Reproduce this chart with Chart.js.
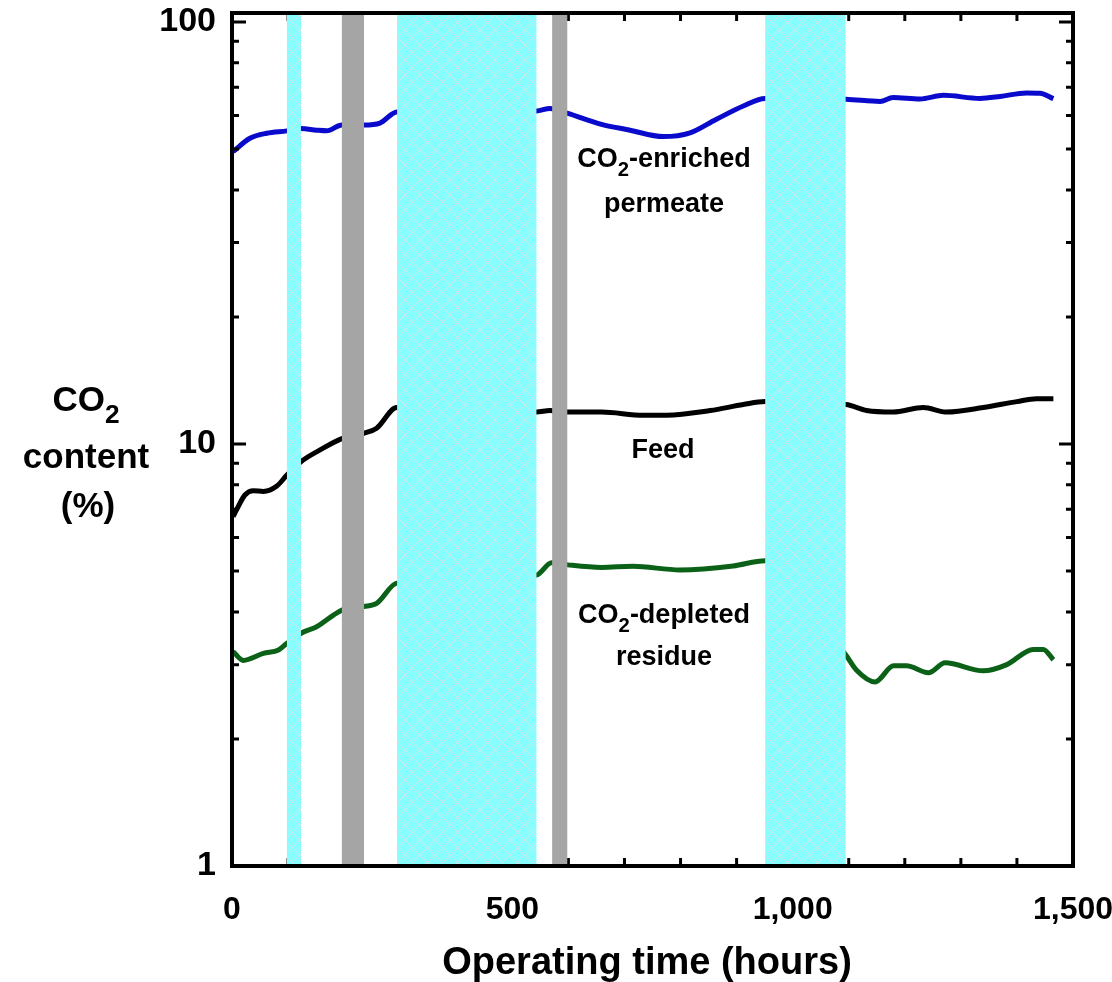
<!DOCTYPE html>
<html>
<head>
<meta charset="utf-8">
<script src="https://cdn.jsdelivr.net/npm/chart.js@4.4.1/dist/chart.umd.min.js"></script>
<style>
  html, body { margin: 0; padding: 0; background: #fff; }
  #wrap { width: 1112px; height: 982px; }
</style>
</head>
<body>
<div id="wrap"><canvas id="co2Chart" width="1112" height="982"></canvas></div>
<script>
// operating time (h) and CO2 content (%)
const permeateHours = [2, 32, 62, 98, 123, 151, 169, 196, 235, 264, 294, 543, 567, 599, 659, 710, 769, 817, 864, 912, 951, 1095, 1156, 1179, 1227, 1269, 1334, 1370, 1417, 1441, 1465];
const permeateValues = [49.3, 53.0, 54.5, 55.2, 55.9, 55.4, 55.2, 57.0, 57.0, 57.6, 61.2, 61.5, 62.4, 60.7, 57.2, 55.4, 53.5, 54.6, 58.8, 63.2, 65.9, 65.6, 64.8, 66.2, 65.7, 67.0, 65.9, 66.6, 67.9, 67.8, 65.8];

const feedHours = [2, 8, 23, 38, 56, 80, 98, 123, 157, 196, 235, 258, 294, 543, 567, 599, 659, 734, 775, 853, 912, 951, 1095, 1132, 1179, 1233, 1275, 1340, 1400, 1435, 1465];
const feedValues = [6.73, 6.98, 7.57, 7.75, 7.72, 7.95, 8.44, 9.08, 9.68, 10.3, 10.6, 10.9, 12.2, 11.9, 12.0, 11.9, 11.9, 11.7, 11.7, 12.0, 12.4, 12.6, 12.4, 12.0, 11.9, 12.2, 11.9, 12.2, 12.6, 12.8, 12.8];

const residueHours = [2, 20, 56, 83, 98, 123, 151, 181, 196, 235, 258, 294, 543, 570, 599, 659, 715, 799, 894, 951, 1095, 1114, 1147, 1180, 1203, 1242, 1272, 1340, 1382, 1429, 1447, 1465];
const residueValues = [3.22, 3.07, 3.19, 3.25, 3.37, 3.56, 3.69, 3.93, 4.04, 4.12, 4.19, 4.68, 4.89, 5.23, 5.17, 5.10, 5.13, 5.03, 5.14, 5.29, 3.16, 2.91, 2.73, 2.98, 2.98, 2.87, 3.03, 2.90, 3.00, 3.26, 3.26, 3.08];

// shaded periods (h)
const cyanBands = [[98, 123], [294.5, 543], [951, 1094.5]];
const grayBands = [[196, 235.5], [571, 598]];

const xTickLabels = [0, 500, 1000, 1500];
const xTickMarks = [100, 200, 300, 400, 500, 600, 700, 800, 900, 1000, 1100, 1200, 1300, 1400];
const yTickLabels = [1, 10, 100];
const yMinorTicks = [2, 3, 4, 5, 6, 7, 8, 9, 20, 30, 40, 50, 60, 70, 80, 90];

const textFont = '"Liberation Sans", Arial, sans-serif';

function toPoints(hours, values) {
  return hours.map((h, i) => ({ x: h, y: values[i] }));
}

// cross-hatched cyan fill
function hatchPattern(ctx) {
  const n = 15;
  const c = document.createElement("canvas");
  c.width = n;
  c.height = n;
  const p = c.getContext("2d");
  p.fillStyle = "#87fdfd";
  p.fillRect(0, 0, n, n);
  p.strokeStyle = "#cde6e6";
  p.lineWidth = 1;
  p.beginPath();
  p.moveTo(0, 0); p.lineTo(n, n);
  p.moveTo(n, 0); p.lineTo(0, n);
  p.stroke();
  return ctx.createPattern(c, "repeat");
}

// text with CO2 subscript
function drawRich(ctx, parts, cx, base, size) {
  ctx.save();
  let total = 0;
  const widths = parts.map(([t, sub]) => {
    ctx.font = "bold " + (sub ? size * 0.75 : size) + "px " + textFont;
    const w = ctx.measureText(t).width;
    total += w;
    return w;
  });
  ctx.fillStyle = "#000";
  ctx.textAlign = "left";
  ctx.textBaseline = "alphabetic";
  let xx = cx - total / 2;
  parts.forEach(([t, sub], i) => {
    ctx.font = "bold " + (sub ? size * 0.75 : size) + "px " + textFont;
    ctx.fillText(t, xx, base + (sub ? size * 0.34 : 0));
    xx += widths[i];
  });
  ctx.restore();
}

const overlay = {
  id: "overlay",
  afterDatasetsDraw(chart) {
    const { ctx, chartArea: a, scales: { x, y } } = chart;
    ctx.save();

    // inward tick marks
    ctx.strokeStyle = "#000";
    ctx.lineWidth = 3;
    ctx.beginPath();
    yTickLabels.concat(yMinorTicks).forEach(v => {
      const py = y.getPixelForValue(v);
      const len = yTickLabels.includes(v) ? 14 : 7;
      ctx.moveTo(a.left, py); ctx.lineTo(a.left + len, py);
      ctx.moveTo(a.right, py); ctx.lineTo(a.right - len, py);
    });
    xTickMarks.forEach(v => {
      const px = x.getPixelForValue(v);
      ctx.moveTo(px, a.bottom); ctx.lineTo(px, a.bottom - 8);
      ctx.moveTo(px, a.top); ctx.lineTo(px, a.top + 8);
    });
    ctx.stroke();

    // shaded periods
    ctx.fillStyle = hatchPattern(ctx);
    cyanBands.forEach(([s, e]) => {
      const x0 = x.getPixelForValue(s), x1 = x.getPixelForValue(e);
      ctx.fillRect(x0, a.top, x1 - x0, a.bottom - a.top);
    });
    ctx.fillStyle = "#a5a5a5";
    grayBands.forEach(([s, e]) => {
      const x0 = x.getPixelForValue(s), x1 = x.getPixelForValue(e);
      ctx.fillRect(x0, a.top, x1 - x0, a.bottom - a.top);
    });

    // frame
    ctx.lineWidth = 4;
    ctx.strokeRect(a.left, a.top, a.right - a.left, a.bottom - a.top);
    ctx.restore();

    // labels
    drawRich(ctx, [["CO"], ["2", true], ["-enriched"]], 664, 167, 27);
    drawRich(ctx, [["permeate"]], 664, 212, 27);
    drawRich(ctx, [["Feed"]], 663, 458, 27);
    drawRich(ctx, [["CO"], ["2", true], ["-depleted"]], 664, 623, 27);
    drawRich(ctx, [["residue"]], 664, 665, 27);

    // axis titles
    drawRich(ctx, [["CO"], ["2", true]], 86, 411, 35);
    drawRich(ctx, [["content"]], 86, 468, 35);
    drawRich(ctx, [["(%)"]], 88, 517, 35);
    drawRich(ctx, [["Operating time (hours)"]], 647, 974, 38);
  }
};

new Chart(document.getElementById("co2Chart"), {
  type: "line",
  data: {
    datasets: [
      {
        label: "CO2-enriched permeate",
        data: toPoints(permeateHours, permeateValues),
        borderColor: "#0a0acc",
        borderWidth: 5,
        pointRadius: 0,
        cubicInterpolationMode: "monotone",
        fill: false
      },
      {
        label: "Feed",
        data: toPoints(feedHours, feedValues),
        borderColor: "#000000",
        borderWidth: 5,
        pointRadius: 0,
        cubicInterpolationMode: "monotone",
        fill: false
      },
      {
        label: "CO2-depleted residue",
        data: toPoints(residueHours, residueValues),
        borderColor: "#0b6118",
        borderWidth: 5,
        pointRadius: 0,
        cubicInterpolationMode: "monotone",
        fill: false
      }
    ]
  },
  options: {
    responsive: false,
    animation: false,
    events: [],
    layout: { padding: { left: 0, right: 39, top: 13, bottom: 0 } },
    plugins: {
      legend: { display: false },
      tooltip: { enabled: false }
    },
    scales: {
      x: {
        type: "linear",
        min: 0,
        max: 1500,
        border: { display: false },
        grid: { display: false, drawTicks: false },
        afterBuildTicks: s => { s.ticks = xTickLabels.map(v => ({ value: v })); },
        afterFit: s => { s.height = 116; s.paddingLeft = 0; s.paddingRight = 0; },
        ticks: {
          autoSkip: false,
          minRotation: 0,
          maxRotation: 0,
          padding: 25,
          color: "#000",
          font: { family: "Liberation Sans", weight: "bold", size: 32 },
          callback: v => v.toLocaleString("en-US")
        }
      },
      y: {
        type: "logarithmic",
        min: 1,
        max: 105,
        border: { display: false },
        grid: { display: false, drawTicks: false },
        afterBuildTicks: s => {
          s.ticks = yTickLabels.concat(yMinorTicks).sort((p, q) => p - q).map(v => ({ value: v }));
        },
        afterFit: s => { s.width = 232; s.paddingTop = 0; s.paddingBottom = 0; },
        ticks: {
          autoSkip: false,
          padding: 16,
          color: "#000",
          font: { family: "Liberation Sans", weight: "bold", size: 34 },
          callback: v => yTickLabels.includes(v) ? String(v) : ""
        }
      }
    }
  },
  plugins: [overlay]
});
</script>
</body>
</html>
